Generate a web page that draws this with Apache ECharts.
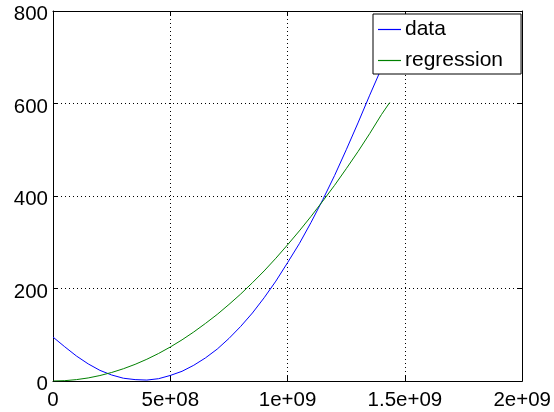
<!DOCTYPE html>
<html>
<head>
<meta charset="utf-8">
<script src="https://cdn.jsdelivr.net/npm/echarts@6/dist/echarts.min.js"></script>
<style>
html,body{margin:0;padding:0;background:#fff;}
#chart{width:554px;height:412px;}
</style>
</head>
<body>
<div id="chart"></div>
<script>
// x positions (units of 1e8)
var dataX = [0, 0.5, 1, 1.5, 2, 2.5, 3, 3.5, 4, 4.5, 5, 5.5, 6, 6.5, 7, 7.5, 8, 8.5, 9, 9.5, 10, 10.5, 11, 11.5, 12, 12.5, 13, 13.5, 14, 14.35];
var dataY = [95, 74, 54, 37, 23, 13, 6, 3, 2, 5, 12, 21, 34, 50, 69, 92, 118, 147, 180, 216, 256, 297, 343, 392, 444, 500, 558, 618, 676, 705];
var regX = [0, 0.5, 1, 1.5, 2, 2.5, 3, 3.5, 4, 4.5, 5, 5.5, 6, 6.5, 7, 7.5, 8, 8.5, 9, 9.5, 10, 10.5, 11, 11.5, 12, 12.5, 13, 13.5, 14, 14.35];
var regY = [0, 0.7, 3, 6.6, 11.8, 18.4, 26.5, 36, 47, 59.5, 73.5, 89, 106, 124.5, 144, 165.5, 188, 212.5, 238, 265.5, 294.5, 324.5, 356, 389, 423, 459, 496, 535, 576, 602];
var xTickValues = [0, 5e8, 1e9, 1.5e9, 2e9];
var xTickLabels = ['0', '5e+08', '1e+09', '1.5e+09', '2e+09'];
var yTickLabels = ['0', '200', '400', '600', '800'];
var seriesNames = ['data', 'regression'];

function pairs(xs, ys) {
  return xs.map(function (x, i) { return [x * 1e8, ys[i]]; });
}

var FONT = '"Liberation Sans", Arial, Helvetica, sans-serif';
var chart = echarts.init(document.getElementById('chart'), null, {renderer: 'canvas'});

var baseX = {
  type: 'value', min: 0, max: 2e9, interval: 5e8,
  axisLine: {show: true, onZero: false, lineStyle: {color: '#000', width: 1}},
  axisTick: {show: true, inside: true, length: 5, lineStyle: {color: '#000'}},
  splitLine: {show: false}
};
var baseY = {
  type: 'value', min: 0, max: 800, interval: 200,
  axisLine: {show: true, onZero: false, lineStyle: {color: '#000', width: 1}},
  axisTick: {show: true, inside: true, length: 5, lineStyle: {color: '#000'}},
  splitLine: {show: false}
};

chart.setOption({
  animation: false,
  backgroundColor: '#fff',
  textStyle: {fontFamily: FONT},
  grid: {left: 53, right: 30, top: 11, bottom: 31, containLabel: false},
  xAxis: [
    Object.assign({}, baseX, {
      position: 'bottom',
      axisLabel: {
        show: true, color: '#000', fontSize: 20.5, fontFamily: FONT, margin: 9,
        formatter: function (v) {
          var idx = xTickValues.indexOf(v);
          return idx >= 0 ? xTickLabels[idx] : '';
        }
      },
      splitLine: {show: true, lineStyle: {color: '#000', type: [1, 3], width: 1}}
    }),
    Object.assign({}, baseX, {position: 'top', axisLabel: {show: false}})
  ],
  yAxis: [
    Object.assign({}, baseY, {
      position: 'left',
      axisLabel: {
        show: true, color: '#000', fontSize: 20.5, fontFamily: FONT, margin: 5,
        verticalAlign: 'top', lineHeight: 7,
        formatter: function (v) { return yTickLabels[Math.round(v / 200)]; }
      },
      splitLine: {show: true, lineStyle: {color: '#000', type: [1, 3], width: 1}}
    }),
    Object.assign({}, baseY, {position: 'right', axisLabel: {show: false}})
  ],
  legend: {
    show: true,
    orient: 'vertical',
    left: 373, top: 14,
    padding: [5, 18, 3, 5],
    itemGap: 10,
    itemWidth: 23, itemHeight: 1.2,
    icon: 'rect',
    backgroundColor: '#fff',
    borderColor: '#000', borderWidth: 1, borderRadius: 0,
    textStyle: {color: '#000', fontSize: 21, fontFamily: FONT, padding: [0, 0, 0, -1], lineHeight: 20},
    data: seriesNames
  },
  series: [
    {
      name: seriesNames[0], type: 'line', xAxisIndex: 0, yAxisIndex: 0,
      data: pairs(dataX, dataY), smooth: false, symbol: 'none', showSymbol: false,
      lineStyle: {color: '#0000ff', width: 1}, itemStyle: {color: '#0000ff'}, z: 2
    },
    {
      name: seriesNames[1], type: 'line', xAxisIndex: 0, yAxisIndex: 0,
      data: pairs(regX, regY), smooth: false, symbol: 'none', showSymbol: false,
      lineStyle: {color: '#008000', width: 1}, itemStyle: {color: '#008000'}, z: 2
    }
  ]
});
</script>
</body>
</html>
